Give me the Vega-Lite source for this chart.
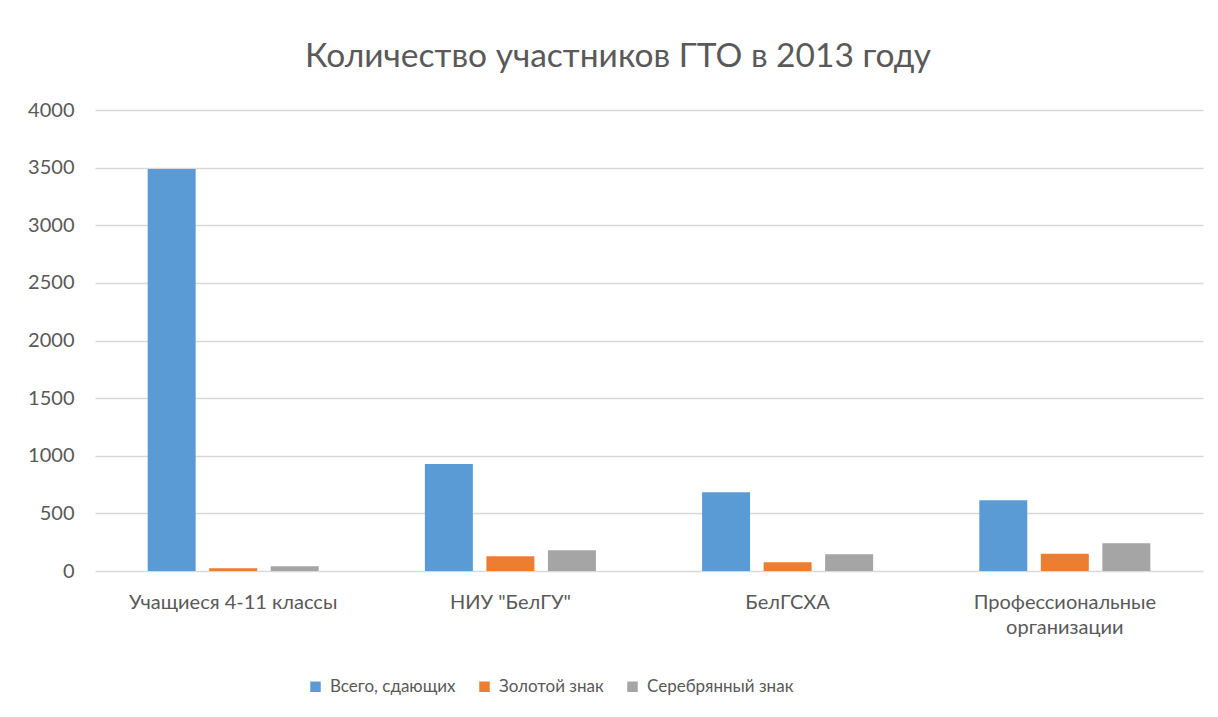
{
  "$schema": "https://vega.github.io/schema/vega-lite/v6.json",
  "width": 1108,
  "height": 461,
  "autosize": {"type": "none"},
  "padding": {"left": 95, "top": 110, "right": 15, "bottom": 146},
  "background": "white",
  "title": {
    "text": "Количество участников ГТО в 2013 году",
    "font": "Lato",
    "fontSize": 33.5,
    "fontWeight": "normal",
    "color": "#595959",
    "anchor": "middle",
    "frame": "group",
    "dx": -31,
    "offset": 26
  },
  "data": {
    "values": [
      {"category": "Учащиеся 4-11 классы", "series": "Всего, сдающих", "value": 3488},
      {"category": "Учащиеся 4-11 классы", "series": "Золотой знак", "value": 23},
      {"category": "Учащиеся 4-11 классы", "series": "Серебрянный знак", "value": 41},
      {"category": "НИУ \"БелГУ\"", "series": "Всего, сдающих", "value": 928},
      {"category": "НИУ \"БелГУ\"", "series": "Золотой знак", "value": 128},
      {"category": "НИУ \"БелГУ\"", "series": "Серебрянный знак", "value": 180},
      {"category": "БелГСХА", "series": "Всего, сдающих", "value": 683},
      {"category": "БелГСХА", "series": "Золотой знак", "value": 75},
      {"category": "БелГСХА", "series": "Серебрянный знак", "value": 146},
      {"category": "Профессиональные организации", "series": "Всего, сдающих", "value": 614},
      {"category": "Профессиональные организации", "series": "Золотой знак", "value": 150},
      {"category": "Профессиональные организации", "series": "Серебрянный знак", "value": 240}
    ]
  },
  "mark": {"type": "bar"},
  "encoding": {
    "x": {
      "field": "category",
      "type": "nominal",
      "sort": null,
      "title": null,
      "scale": {"paddingInner": 0.383, "paddingOuter": 0.19},
      "axis": {
        "labelAngle": 0,
        "labelFont": "Lato",
        "labelFontSize": 20,
        "labelColor": "#595959",
        "labelPadding": 21,
        "labelLineHeight": 25,
        "labelBaseline": "top",
        "labelLimit": 300,
        "ticks": false,
        "domain": false,
        "grid": false,
        "labelExpr": "datum.label == 'Профессиональные организации' ? ['Профессиональные', 'организации'] : datum.label"
      }
    },
    "xOffset": {
      "field": "series",
      "type": "nominal",
      "sort": null,
      "scale": {"paddingInner": 0.22, "paddingOuter": 0}
    },
    "y": {
      "field": "value",
      "type": "quantitative",
      "title": null,
      "scale": {"domain": [0, 4000], "nice": false},
      "axis": {
        "values": [0, 500, 1000, 1500, 2000, 2500, 3000, 3500, 4000],
        "format": "d",
        "labelFont": "Lato",
        "labelFontSize": 20,
        "labelColor": "#595959",
        "labelPadding": 21,
        "ticks": false,
        "domain": false,
        "grid": true,
        "gridColor": "#D9D9D9",
        "gridWidth": 1.5
      }
    },
    "color": {
      "field": "series",
      "type": "nominal",
      "sort": null,
      "scale": {
        "domain": ["Всего, сдающих", "Золотой знак", "Серебрянный знак"],
        "range": ["#5B9BD5", "#ED7D31", "#A5A5A5"]
      },
      "legend": {
        "title": null,
        "orient": "none",
        "direction": "horizontal",
        "legendX": 212,
        "legendY": 568,
        "symbolType": "square",
        "symbolSize": 110,
        "symbolStrokeWidth": 0,
        "labelFont": "Lato",
        "labelFontSize": 17,
        "labelLimit": 300,
        "labelColor": "#595959",
        "labelOffset": 6,
        "columnPadding": 20
      }
    }
  },
  "config": {
    "view": {"stroke": null}
  }
}
